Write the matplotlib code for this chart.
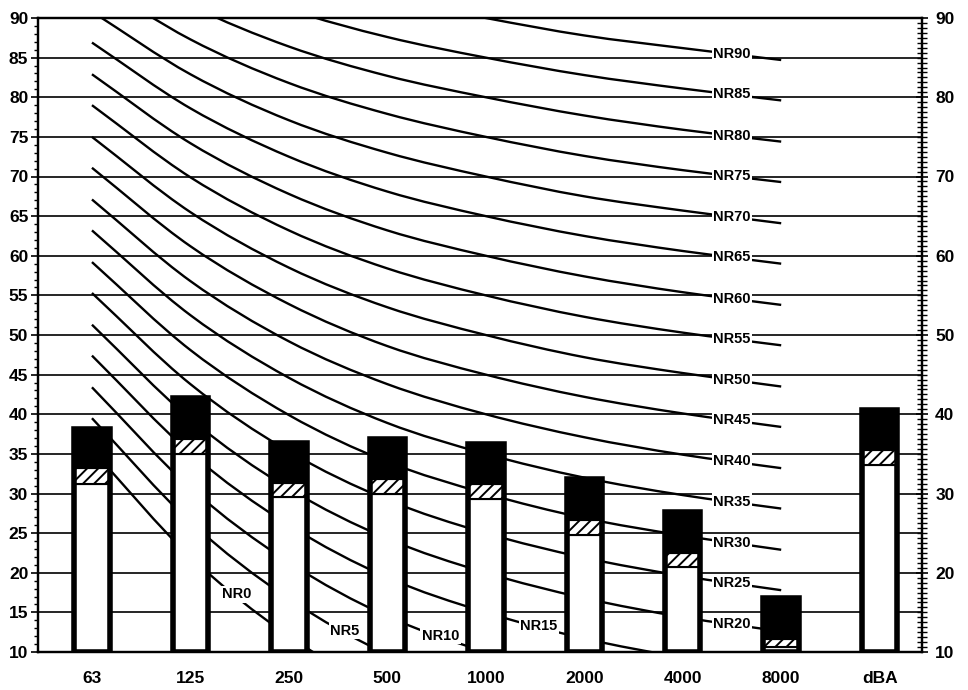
import numpy as np
import matplotlib
matplotlib.use("Agg")
import matplotlib.pyplot as plt
from matplotlib.path import Path
from matplotlib.patches import PathPatch
from matplotlib.ticker import MultipleLocator

plt.rcParams["font.family"] = ["Liberation Sans", "DejaVu Sans"]
plt.rcParams["hatch.linewidth"] = 1.4

# ---- data -------------------------------------------------------------
categories = ["63", "125", "250", "500", "1000", "2000", "4000", "8000", "dBA"]

# measured levels (stacked: white part, hatched band, black band on top)
level_white = [31.2, 35.0, 29.6, 29.9, 29.3, 24.8, 20.7, 10.6, 33.6]
level_hatch = [33.2, 36.9, 31.3, 31.8, 31.2, 26.7, 22.5, 11.6, 35.5]
level_top = [38.2, 42.0, 36.4, 36.9, 36.2, 31.8, 27.7, 16.8, 40.5]

# NR rating curves, octave-band levels for NR0 ... NR90
nr_numbers = [0, 5, 10, 15, 20, 25, 30, 35, 40, 45, 50, 55, 60, 65, 70, 75, 80, 85, 90]
nr_63 = [35.5, 39.5, 43.4, 47.4, 51.3, 55.3, 59.2, 63.2, 67.1, 71.1, 75.0, 79.0,
         82.9, 86.9, 90.8, 94.8, 98.7, 102.7, 106.6]
nr_125 = [22.0, 26.4, 30.7, 35.1, 39.4, 43.8, 48.1, 52.5, 56.8, 61.2, 65.5, 69.9,
          74.2, 78.6, 82.9, 87.3, 91.6, 96.0, 100.3]
nr_250 = [12.0, 16.7, 21.3, 26.0, 30.6, 35.3, 39.9, 44.6, 49.2, 53.9, 58.5, 63.2,
          67.8, 72.5, 77.1, 81.8, 86.4, 91.1, 95.7]
nr_500 = [4.8, 9.7, 14.5, 19.4, 24.3, 29.2, 34.0, 38.9, 43.8, 48.6, 53.5, 58.4,
          63.2, 68.1, 73.0, 77.9, 82.7, 87.6, 92.5]
nr_1000 = [0.0, 5.0, 10.0, 15.0, 20.0, 25.0, 30.0, 35.0, 40.0, 45.0, 50.0, 55.0,
           60.0, 65.0, 70.0, 75.0, 80.0, 85.0, 90.0]
nr_2000 = [-3.5, 1.6, 6.6, 11.7, 16.8, 21.9, 26.9, 32.0, 37.1, 42.2, 47.2, 52.3,
           57.4, 62.5, 67.5, 72.6, 77.7, 82.8, 87.8]
nr_4000 = [-6.1, -1.0, 4.2, 9.3, 14.4, 19.6, 24.7, 29.8, 34.9, 40.1, 45.2, 50.3,
           55.4, 60.6, 65.7, 70.8, 75.9, 81.1, 86.2]
nr_8000 = [-8.0, -2.9, 2.3, 7.5, 12.6, 17.8, 22.9, 28.1, 33.2, 38.4, 43.5, 48.7,
           53.8, 59.0, 64.1, 69.3, 74.4, 79.6, 84.7]

# where each NR label sits along the curve (category units)
label_x = {0: 1.47, 5: 2.57, 10: 3.54, 15: 4.54}
label_x_default = 6.5

# ---- figure -----------------------------------------------------------
W, H = 968, 690
fig = plt.figure(figsize=(W / 100, H / 100), dpi=100)
ax = fig.add_axes([38 / W, 1 - 652 / H, (922 - 38) / W, (652 - 18) / H])

x = np.arange(len(categories))
ax.set_xlim(-0.548, 8.43)
ax.set_ylim(10, 90)

# horizontal grid
for g in range(15, 90, 5):
    ax.axhline(g, color="black", lw=1.2, zorder=1)


def smooth_path(xs, ys):
    """Catmull-Rom curve through the points, as cubic bezier segments."""
    pts = np.column_stack([xs, ys]).astype(float)
    n = len(pts)
    tang = np.zeros_like(pts)
    tang[1:-1] = (pts[2:] - pts[:-2]) / 2
    tang[0] = pts[1] - pts[0]
    tang[-1] = pts[-1] - pts[-2]
    verts = [pts[0]]
    codes = [Path.MOVETO]
    for i in range(n - 1):
        verts += [pts[i] + tang[i] / 3, pts[i + 1] - tang[i + 1] / 3, pts[i + 1]]
        codes += [Path.CURVE4] * 3
    return Path(verts, codes)


bands = np.array([nr_63, nr_125, nr_250, nr_500, nr_1000, nr_2000, nr_4000, nr_8000])
xc = x[:8]
for k, nr in enumerate(nr_numbers):
    ys = bands[:, k]
    ax.add_patch(PathPatch(smooth_path(xc, ys), fill=False, edgecolor="black",
                           lw=1.7, zorder=2))
    lx = label_x.get(nr, label_x_default)
    ly = np.interp(lx, xc, ys)
    ax.text(lx, ly, f"NR{nr}", ha="center", va="center", fontsize=10.5,
            fontweight="bold", zorder=3,
            bbox=dict(facecolor="white", edgecolor="none", pad=1.0))

# stacked bars
bw = 0.36
base = 10
white_h = np.array(level_white) - base
hatch_h = np.array(level_hatch) - np.array(level_white)
black_h = np.array(level_top) - np.array(level_hatch)
ax.bar(x, white_h, bw, bottom=base, facecolor="white", edgecolor="black",
       lw=1.5, zorder=4)
ax.bar(x, hatch_h, bw, bottom=level_white, facecolor="white", edgecolor="black",
       hatch="///", lw=1.5, zorder=4)
ax.bar(x, black_h, bw, bottom=level_hatch, facecolor="black", edgecolor="black",
       lw=1.5, zorder=4)
ax.bar(x, np.array(level_top) - base, bw, bottom=base, fill=False,
       edgecolor="black", lw=4, zorder=5)

# axes styling
for side in ["left", "right", "top", "bottom"]:
    ax.spines[side].set_linewidth(1.6)
    ax.spines[side].set_zorder(6)

ax.set_xticks(x)
ax.set_xticklabels(categories, fontsize=12.5, fontweight="bold")
ax.tick_params(axis="x", length=0, pad=14)

ax.yaxis.set_major_locator(MultipleLocator(5))
ax.yaxis.set_minor_locator(MultipleLocator(1))
ax.tick_params(axis="y", which="major", direction="out", length=5, width=1.2,
               labelsize=12.5, pad=2)
ax.tick_params(axis="y", which="minor", direction="out", length=3, width=1.0)
for lab in ax.get_yticklabels():
    lab.set_fontweight("bold")

ax2 = ax.twinx()
ax2.set_ylim(10, 90)
ax2.yaxis.set_major_locator(MultipleLocator(10))
ax2.yaxis.set_minor_locator(MultipleLocator(0.625))
ax2.tick_params(axis="y", which="major", direction="inout", length=9, width=1.2,
                labelsize=12.5, pad=5)
ax2.tick_params(axis="y", which="minor", direction="inout", length=7, width=1.0)
for lab in ax2.get_yticklabels():
    lab.set_fontweight("bold")
for side in ["left", "right", "top", "bottom"]:
    ax2.spines[side].set_linewidth(1.6)

fig.savefig("out.png", dpi=100, facecolor="white")
